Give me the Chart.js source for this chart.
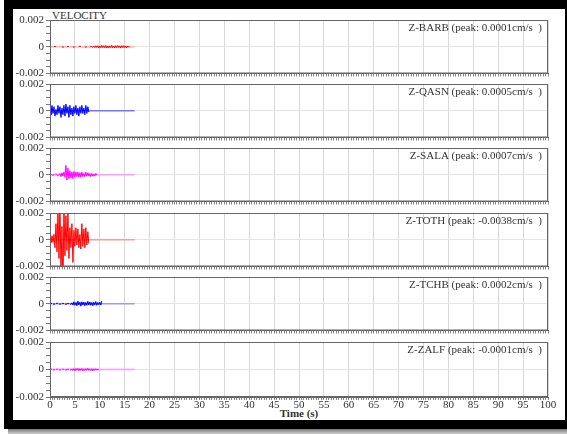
<!DOCTYPE html>
<html>
<head>
<meta charset="utf-8">
<script src="https://cdn.jsdelivr.net/npm/chart.js@4"></script>
<style>
body{margin:0;background:#fff;width:567px;height:434px;overflow:hidden;position:relative}
#frame{position:absolute;left:4px;top:0;width:563px;height:429px;background:#000}
#shadow{position:absolute;left:8px;top:429px;width:559px;height:5px;background:linear-gradient(#777,#d0d0d0)}
#inner{position:absolute;left:13px;top:9px;width:552px;height:411px;background:#fff}
canvas{position:absolute;left:0}
.lbl{position:absolute;font-family:"Liberation Serif",serif;color:#333;font-size:11px;line-height:12px}
</style>
</head>
<body>
<div id="frame"></div><div id="shadow"></div><div id="inner"></div>
<div class="lbl" style="left:52px;top:9px">VELOCITY</div>
<div class="lbl" style="left:50px;top:407px;width:498px;text-align:center;font-weight:bold">Time (s)</div>
<script>
const dt = 0.2;        // sample interval (s)
const traceEnd = 17;   // record length (s)
const stations = ['Z-BARB', 'Z-QASN', 'Z-SALA', 'Z-TOTH', 'Z-TCHB', 'Z-ZALF'];
const peaks = ['0.0001', '0.0005', '0.0007', '-0.0038', '0.0002', '-0.0001'];

// velocity samples, in 1e-4 cm/s
const barb = [0,0,0,0,0,0.4,0,0,0,0, 0,0,0,-0.4,0,0,0,0,0.4,0,
  0,0,0,0,-0.4,0,0,0,0,0, 0.4,0,0,0,0,0,-0.4,0,0,0, 0,0.4,0,-0.4,
  0.5,-0.6,0.8,-0.5,0.7,-0.9,0.6,-0.7,1,-0.6, 0.8,-0.7,0.9,-1,0.6,-0.8,0.7,-0.6,1,-0.8,
  0.6,-0.9,0.8,-0.7,0.9,-0.6,0.7,-1,0.8,-0.6, 0.9,-0.7,0.6,-0.8,0.5,
  -0.3,0,0,0,0,0];
const qasn = [2,-3,4,-2,3,-4,1,-3,4,-2, 3,-5,2,-3,4,-4,5,-2,3,-5,
  4,-3,2,-4,3,-2,4,-3,2,-4, 3,-2,4,-2,2,-3,4,-2,3,-1];
const sala = [0.5,0,0,-0.5,0,0,0.8,0,-0.8,0, 1,-1.5,1.5,-1,2, -2,7,-4,5,-3,
  3,-2.5,2,-3,2.5,-2,2,-1.5,2,-2, 1.5,-2,2,-1.5,1,-1.5,2,-1,1.5,-1,
  1,-1.5,1,-1,0.5,-1,1,-0.5];
const toth = [1,-2,3,-2,4, -6,12,-9,24,-14, 30,-26,10,-38,26, -12,18,-8,20,-14,
  9,-6,12,-17,7, -5,9,-4,8,-6, 4,-7,12,-5,8, -6,9,-4,6,-3];
const tchb = [0,0.5,0,0,-0.5,0,0,0.6,0,0, -0.5,0,0,0.5,0,0,-0.6,0,0.5,0,
  0,-0.5,0.7,
  -1,1.5,-1.2,1,-1.5,2,-1,1.2,-1.8,1.5, -1,1.3,-1.5,1,-1.2,1.8,-1,1.4,-1.2,1,
  -1.5,1.2,-1,1.6,-1.2,1,-0.8,1.2,-1,2];
const zalf = [0,0.4,0,0,-0.4,0,0,0.4,0,0, -0.4,0,0,0.4,0,0,-0.4,0,0.4,0,
  0,-0.4,0.5,
  -0.8,0.6,-1,0.7,-0.6,0.8,-0.9,0.6,-0.7,0.8, -1,0.5,-0.8,0.7,-0.6,0.9,-0.7,0.5,-0.8,0.6,
  -1,0.5,-0.7,0.6,-0.5,0.4,-0.6];
const traces = [barb, qasn, sala, toth, tchb, zalf];

const lineColors = ['#ff0000', '#0000ff', '#ff00ff', '#ff0000', '#0000ff', '#ff00ff'];
const baseColors = ['#ffb0b0', '#7474ff', '#ff99ff', '#ff9a9a', '#9a9aff', '#ff99ff'];

const panelTops = [20, 84, 148, 213, 277, 342];
const panelH = 55;
const font = { family: '"Liberation Serif", serif', size: 11, lineHeight: 1 };
const isMajor = v => Math.abs(v / 5 - Math.round(v / 5)) < 1e-6;

const panelDecor = {
  id: 'panelDecor',
  afterDatasetsDraw(chart, args, opts) {
    const { ctx, chartArea: a } = chart;
    ctx.save();
    ctx.strokeStyle = '#666';
    ctx.lineWidth = 1;
    ctx.strokeRect(a.left + 0.5, a.top + 0.5, a.width - 1, a.height - 1);
    ctx.font = '11px "Liberation Serif", serif';
    ctx.fillStyle = '#333';
    ctx.textAlign = 'right';
    ctx.textBaseline = 'middle';
    ctx.fillText(opts.text, a.right - 6, a.top + 8);
    ctx.restore();
  }
};

traces.forEach((vals, i) => {
  const last = i === traces.length - 1;
  const axisH = last ? 20 : 6;
  const cv = document.createElement('canvas');
  cv.width = 567;
  cv.height = 8 + panelH + axisH;
  cv.style.top = (panelTops[i] - 8) + 'px';
  document.body.appendChild(cv);

  new Chart(cv, {
    type: 'line',
    data: {
      datasets: [{
        data: vals.map((v, k) => ({ x: k * dt, y: v * 1e-4 })),
        borderColor: lineColors[i],
        borderWidth: 1,
        pointRadius: 0,
        // flat stretches let the pale baseline show through
        segment: {
          borderColor: s => (s.p0.parsed.y === 0 && s.p1.parsed.y === 0) ? 'rgba(0,0,0,0)' : undefined
        }
      }, {
        data: [{ x: 0, y: 0 }, { x: traceEnd, y: 0 }],
        borderColor: baseColors[i],
        borderWidth: 1.5,
        pointRadius: 0
      }]
    },
    options: {
      responsive: false,
      animation: false,
      events: [],
      layout: { padding: { top: 8, right: 19, left: 0, bottom: 0 } },
      plugins: {
        legend: { display: false },
        tooltip: { enabled: false },
        panelDecor: { text: stations[i] + ' (peak: ' + peaks[i] + 'cm/s  )' }
      },
      scales: {
        x: {
          type: 'linear', min: 0, max: 100,
          afterFit: s => { s.height = axisH; },
          ticks: {
            display: last, stepSize: 0.5, autoSkip: false, maxRotation: 0, minRotation: 0,
            padding: 0, color: '#333', font: font,
            callback: v => isMajor(v) ? String(v) : ''
          },
          grid: {
            tickLength: 3, tickColor: '#888',
            color: c => c.tick && isMajor(c.tick.value) ? '#d8d8d8' : 'rgba(0,0,0,0)'
          },
          border: { color: '#666' }
        },
        y: {
          type: 'linear', min: -0.002, max: 0.002,
          afterFit: s => { s.width = 50; },
          ticks: {
            stepSize: 0.0005, autoSkip: false, padding: 2, color: '#333', font: font,
            callback: v => {
              const k = Math.round(v / 0.0005);
              if (k % 4 !== 0) return '';
              return k === 0 ? '0' : v.toFixed(3);
            }
          },
          grid: {
            tickLength: 4, tickColor: '#777',
            color: c => c.tick && Math.abs(c.tick.value) < 1e-9 ? '#e4e4e4' : 'rgba(0,0,0,0)'
          },
          border: { color: '#666' }
        }
      }
    },
    plugins: [panelDecor]
  });
});
</script>
</body>
</html>
